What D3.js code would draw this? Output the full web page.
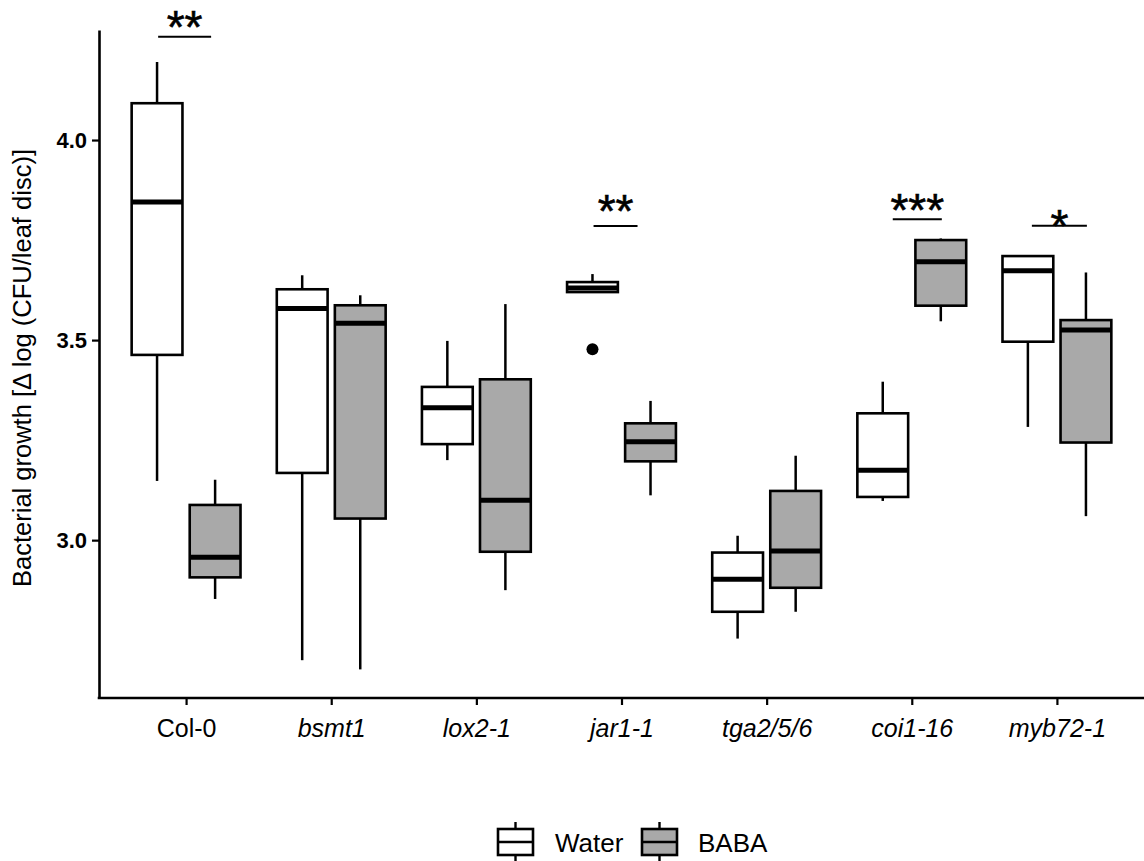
<!DOCTYPE html>
<html>
<head>
<meta charset="utf-8">
<script src="https://cdn.jsdelivr.net/npm/d3@7"></script>
<style>
  body { margin: 0; background: #fff; }
  svg { display: block; }
  text { font-family: "Liberation Sans", Arial, Helvetica, sans-serif; }
</style>
</head>
<body>
<svg id="chart" width="1144" height="861"></svg>
<script>
// ---------------- DATA ----------------
const categories = ["Col-0", "bsmt1", "lox2-1", "jar1-1", "tga2/5/6", "coi1-16", "myb72-1"];
const italicLabels = [false, true, true, true, true, true, true];
const groups = ["Water", "BABA"];

// Water box statistics
const waterMin    = [3.148, 2.700, 3.200, 3.620, 2.754, 3.098, 3.283];
const waterQ1     = [3.463, 3.168, 3.240, 3.620, 2.821, 3.108, 3.496];
const waterMedian = [3.845, 3.579, 3.331, 3.630, 2.902, 3.175, 3.673];
const waterQ3     = [4.092, 3.627, 3.383, 3.645, 2.969, 3.317, 3.710];
const waterMax    = [4.195, 3.662, 3.498, 3.665, 3.011, 3.396, 3.710];
const waterOutliers = [[], [], [], [3.477], [], [], []];

// BABA box statistics
const babaMin    = [2.853, 2.677, 2.875, 3.112, 2.821, 3.547, 3.060];
const babaQ1     = [2.907, 3.054, 2.971, 3.197, 2.881, 3.586, 3.244];
const babaMedian = [2.957, 3.542, 3.100, 3.246, 2.973, 3.696, 3.525];
const babaQ3     = [3.088, 3.587, 3.402, 3.292, 3.123, 3.750, 3.550];
const babaMax    = [3.151, 3.612, 3.590, 3.348, 3.211, 3.754, 3.669];
const babaOutliers = [[], [], [], [], [], [], []];

// y ticks
const yTicks = [3.0, 3.5, 4.0];
const yTickLabels = ["3.0", "3.5", "4.0"];

// significance annotations (levels in data units)
const sigCategories = ["Col-0", "jar1-1", "coi1-16", "myb72-1"];
const sigLabels     = ["**", "**", "***", "*"];
const sigLineLevel  = [4.258, 3.785, 3.802, 3.786];
const sigTextLevel  = [4.308, 3.850, 3.851, 3.812];

const yTitle = "Bacterial growth [\u0394 log (CFU/leaf disc)]";

// ---------------- LAYOUT ----------------
const W = 1144, H = 861;
const plot = { left: 99, right: 1144, top: 30, bottom: 698 };
// annotation line placement (center offset & width, in band-step units)
const sigLayout = [
  { dx: -0.010, w: 0.365 },
  { dx: -0.041, w: 0.303 },
  { dx: 0.038, w: 0.338 },
  { dx: 0.017, w: 0.379 }
];

const svg = d3.select("#chart");

const x = d3.scalePoint().domain(categories).range([plot.left, plot.right]).padding(0.6);
const step = x.step();
const dodge = d3.scaleOrdinal().domain(groups).range([-0.2 * step, 0.2 * step]);
const boxW = 0.35 * step;

const y = d3.scaleLinear().domain([2.6055, 4.275]).range([plot.bottom, plot.top]);

const fills = { Water: "#ffffff", BABA: "#a9a9a9" };

// build records
const records = [];
categories.forEach((c, i) => {
  records.push({ cat: c, group: "Water", min: waterMin[i], q1: waterQ1[i], med: waterMedian[i], q3: waterQ3[i], max: waterMax[i], out: waterOutliers[i] });
  records.push({ cat: c, group: "BABA", min: babaMin[i], q1: babaQ1[i], med: babaMedian[i], q3: babaQ3[i], max: babaMax[i], out: babaOutliers[i] });
});

// ---------------- AXES ----------------
const yAxis = d3.axisLeft(y).tickValues(yTicks).tickFormat((d, i) => yTickLabels[i]).tickSize(7).tickSizeOuter(0).tickPadding(5);
const gy = svg.append("g").attr("transform", `translate(${plot.left},0)`).call(yAxis);
gy.select(".domain").attr("stroke", "#000").attr("stroke-width", 2.6);
gy.selectAll(".tick line").attr("stroke", "#000").attr("stroke-width", 2.2);
gy.selectAll(".tick text").attr("font-size", 22).attr("font-weight", "bold").attr("fill", "#000")
  .attr("font-family", '"Liberation Sans", Arial, sans-serif');

const xAxis = d3.axisBottom(x).tickSize(7).tickSizeOuter(0).tickPadding(14);
const gx = svg.append("g").attr("transform", `translate(0,${plot.bottom})`).call(xAxis);
gx.select(".domain").attr("stroke", "#000").attr("stroke-width", 2.6)
  .attr("d", `M${plot.left - 1.3},0H${plot.right}`);
gx.selectAll(".tick line").attr("stroke", "#000").attr("stroke-width", 2.2);
gx.selectAll(".tick text").attr("font-size", 25).attr("fill", "#000")
  .attr("font-family", '"Liberation Sans", Arial, sans-serif')
  .attr("font-style", (d, i) => italicLabels[i] ? "italic" : "normal");

// y title
svg.append("text")
  .attr("transform", `translate(31,${(plot.top + plot.bottom) / 2 + 4}) rotate(-90)`)
  .attr("text-anchor", "middle")
  .attr("font-size", 25.5)
  .attr("fill", "#000")
  .text(yTitle);

// ---------------- BOXES ----------------
const gb = svg.append("g");
const boxes = gb.selectAll("g.box").data(records).join("g").attr("class", "box")
  .attr("transform", d => `translate(${x(d.cat) + dodge(d.group)},0)`);

boxes.append("line")
  .attr("x1", 0).attr("x2", 0)
  .attr("y1", d => y(d.max)).attr("y2", d => y(d.q3))
  .attr("stroke", "#000").attr("stroke-width", 2.5);
boxes.append("line")
  .attr("x1", 0).attr("x2", 0)
  .attr("y1", d => y(d.q1)).attr("y2", d => y(d.min))
  .attr("stroke", "#000").attr("stroke-width", 2.5);
boxes.append("rect")
  .attr("x", -boxW / 2).attr("width", boxW)
  .attr("y", d => y(d.q3)).attr("height", d => Math.max(0, y(d.q1) - y(d.q3)))
  .attr("fill", d => fills[d.group])
  .attr("stroke", "#000").attr("stroke-width", 2.6);
boxes.append("line")
  .attr("x1", -boxW / 2).attr("x2", boxW / 2)
  .attr("y1", d => y(d.med)).attr("y2", d => y(d.med))
  .attr("stroke", "#000").attr("stroke-width", 5);
boxes.selectAll("circle").data(d => d.out).join("circle")
  .attr("cx", 0).attr("cy", v => y(v)).attr("r", 6).attr("fill", "#000");

// ---------------- SIGNIFICANCE ----------------
const gs = svg.append("g");
sigCategories.forEach((c, i) => {
  const cx = x(c) + sigLayout[i].dx * step;
  const hw = sigLayout[i].w * step / 2;
  gs.append("line")
    .attr("x1", cx - hw).attr("x2", cx + hw)
    .attr("y1", y(sigLineLevel[i])).attr("y2", y(sigLineLevel[i]))
    .attr("stroke", "#000").attr("stroke-width", 2);
  const fs = 46;
  gs.append("text")
    .attr("x", cx).attr("y", y(sigTextLevel[i]) + 0.58 * fs)
    .attr("text-anchor", "middle")
    .attr("font-size", fs)
    .attr("fill", "#000")
    .attr("stroke", "#000").attr("stroke-width", 0.6)
    .text(sigLabels[i]);
});

// ---------------- LEGEND ----------------
const legend = svg.append("g");
const legendKeyX = [498, 642];
const legendTextX = [555, 698];
const keyW = 35, keyTop = 829, keyBot = 855, whTop = 822, whBot = 861;
groups.forEach((g, i) => {
  const lg = legend.append("g").attr("transform", `translate(${legendKeyX[i]},0)`);
  lg.append("line").attr("x1", keyW / 2).attr("x2", keyW / 2).attr("y1", whTop).attr("y2", whBot)
    .attr("stroke", "#000").attr("stroke-width", 2.4);
  lg.append("rect").attr("x", 0).attr("y", keyTop).attr("width", keyW).attr("height", keyBot - keyTop)
    .attr("fill", fills[g]).attr("stroke", "#000").attr("stroke-width", 2.6);
  lg.append("line").attr("x1", 0).attr("x2", keyW).attr("y1", (keyTop + keyBot) / 2).attr("y2", (keyTop + keyBot) / 2)
    .attr("stroke", "#000").attr("stroke-width", 2.6);
  legend.append("text").attr("x", legendTextX[i]).attr("y", 852)
    .attr("font-size", 26).attr("fill", "#000").text(g);
});
</script>
</body>
</html>
